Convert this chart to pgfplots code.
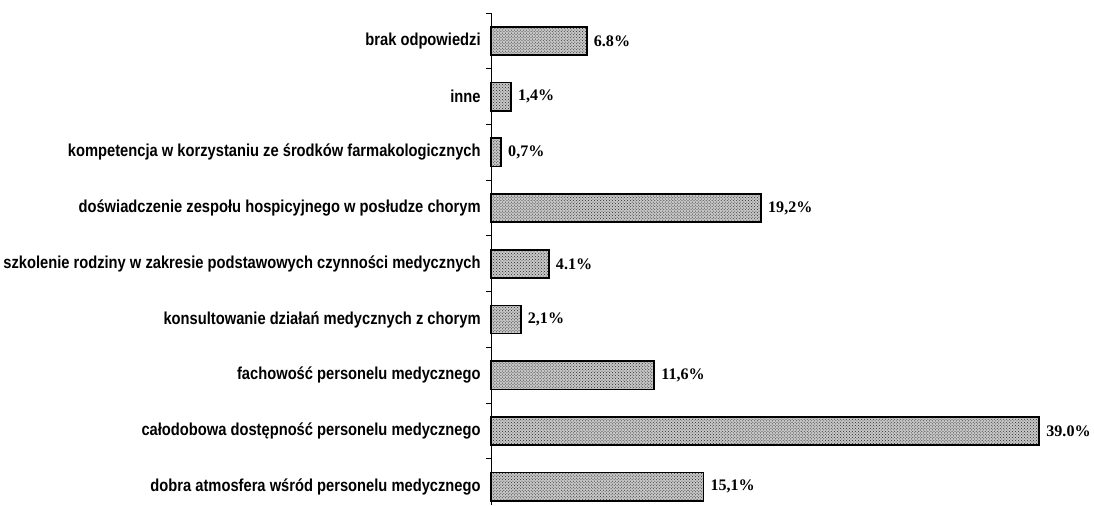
\documentclass[border=0pt]{standalone}
\usepackage{pgfplots}
\pgfplotsset{compat=1.18}
\usepackage{fontspec}
\setmainfont{Liberation Serif}
\newfontfamily\catfont[FakeStretch=0.85]{Liberation Sans}
\usetikzlibrary{patterns}
\begin{document}
\begin{tikzpicture}
\begin{axis}[
  xbar,
  x=13.97pt, y=55.4pt,
  xmin=0, xmax=39,
  ymin=-0.325, ymax=8.5,
  axis y line*=left, axis x line=none,
  y axis line style={-, line width=1pt},
  bar width=28pt,
  ytick={0,...,8},
  yticklabels={
    dobra atmosfera wśród personelu medycznego,
    całodobowa dostępność personelu medycznego,
    fachowość personelu medycznego,
    konsultowanie działań medycznych z chorym,
    szkolenie rodziny w zakresie podstawowych czynności medycznych,
    doświadczenie zespołu hospicyjnego w posłudze chorym,
    kompetencja w korzystaniu ze środków farmakologicznych,
    inne,
    brak odpowiedzi},
  major y tick style={draw=none},
  minor ytick={-0.5,0.5,...,8.5},
  minor y tick style={line width=1pt, black},
  minor tick length=5pt,
  major tick length=5pt,
  tick align=outside,
  y tick label style={font=\catfont\bfseries\fontsize{17.2}{18}\selectfont, xshift=-2pt},
  nodes near coords={\pgfplotspointmeta\%},
  point meta=explicit symbolic,
  every node near coord/.append style={font=\bfseries\fontsize{16}{17}\selectfont, anchor=west, xshift=3pt},
  clip=false,
]
\addplot[draw=black, line width=1.6pt, preaction={fill=black!22},
  pattern=crosshatch dots, pattern color=black!85]
  table[x=v, y=i, meta=l] {
i v l
0 15.1 15,1
1 39.0 39.0
2 11.6 11,6
3 2.1 2,1
4 4.1 4.1
5 19.2 19,2
6 0.7 0,7
7 1.4 1,4
8 6.8 6.8
};
\end{axis}
\path ([yshift=13pt]current axis.north);
\end{tikzpicture}
\end{document}
